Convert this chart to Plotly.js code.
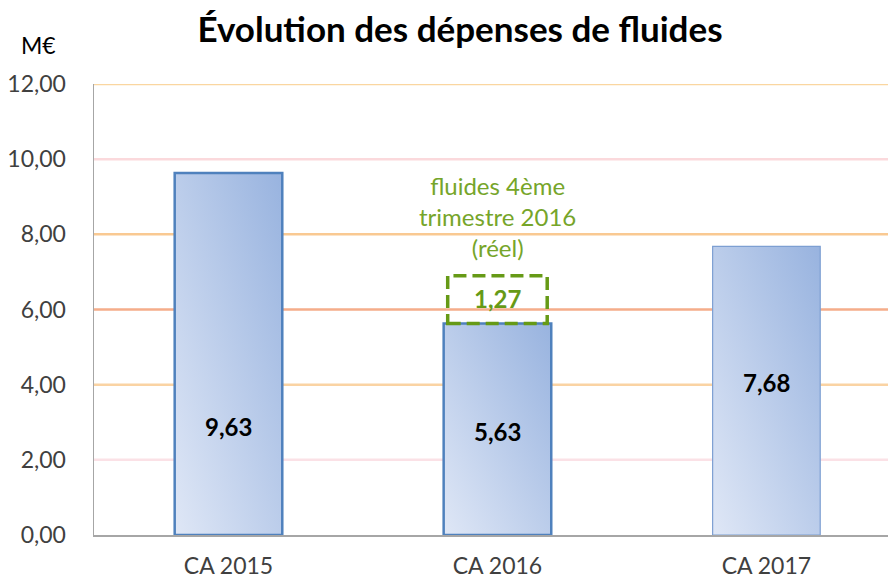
<!DOCTYPE html>
<html><head><meta charset="utf-8">
<script src="https://cdn.plot.ly/plotly-3.0.1.min.js"></script>
<style>body{margin:0;background:#fff}#chart{width:888px;height:581px}</style>
</head><body><div id="chart"></div>
<script>
const categories = ['CA 2015', 'CA 2016', 'CA 2017'];
const values = [9.63, 5.63, 7.68];
const q4Extra = 1.27; // fluides 4ème trimestre 2016 (réel), on top of CA 2016
const q4Category = 'CA 2016';
const tickValues = [0, 2, 4, 6, 8, 10, 12];
const gridColors = ['#a6a6a6', '#fbe1e6', '#fad3a3', '#f5ad8a', '#f9c992', '#fbd9dc', '#fad6a0'];
const labelFractions = [0.30, 0.49, 0.53];

const fmt = v => v.toFixed(2).replace('.', ',');
const font = 'Lato, "Open Sans", sans-serif';
const q4Index = categories.indexOf(q4Category);

const bars = {
  type: 'bar', x: categories, y: values, width: 0.4,
  marker: { color: '#b6c9ea', line: { color: ['#4f81bd', '#4f81bd', '#7d9fd2'], width: [2.5, 2.5, 1.2] } },
  hoverinfo: 'x+y', showlegend: false
};

const shapes = tickValues.slice(1).map((t, i) => ({
  type: 'line', xref: 'paper', x0: 0, x1: 1, yref: 'y', y0: t, y1: t,
  line: { color: gridColors[i + 1], width: 2.5 }, layer: 'below'
}));
shapes.push({
  type: 'rect', xref: 'x', yref: 'y',
  x0: q4Index - 0.185, x1: q4Index + 0.185,
  y0: values[q4Index], y1: values[q4Index] + q4Extra,
  line: { color: '#669a16', width: 3.5, dash: '13px,6px' }, fillcolor: 'rgba(0,0,0,0)'
});

const annotations = values.map((v, i) => ({
  x: categories[i], y: v * labelFractions[i], xref: 'x', yref: 'y',
  text: '<b>' + fmt(v) + '</b>', showarrow: false,
  font: { family: font, size: 24, color: '#000' }
}));
annotations.push({
  x: q4Category, y: values[q4Index] + q4Extra / 2, xref: 'x', yref: 'y',
  text: '<b>' + fmt(q4Extra) + '</b>', showarrow: false, yshift: 1,
  font: { family: font, size: 24, color: '#669a16' }
});
annotations.push({
  x: q4Category, y: values[q4Index] + q4Extra, xref: 'x', yref: 'y', yanchor: 'bottom', yshift: 12,
  text: 'fluides 4ème<br>trimestre 2016<br>(réel)', showarrow: false,
  font: { family: font, size: 24, color: '#76a52a' }, align: 'center'
});
annotations.push({
  xref: 'paper', yref: 'paper', x: -0.0705, y: 1.0, yanchor: 'bottom', xanchor: 'center', yshift: 23,
  text: 'M€', showarrow: false, font: { family: font, size: 23, color: '#000' }
});

const layout = {
  width: 888, height: 581,
  margin: { l: 94, r: 0, t: 84, b: 46 },
  paper_bgcolor: '#fff', plot_bgcolor: '#fff',
  separators: ',.',
  title: { text: '<b>Évolution des dépenses de fluides</b>', x: 0.518, xanchor: 'center', y: 0.948, yanchor: 'middle', yref: 'container',
    font: { family: font, size: 35, color: '#000' } },
  xaxis: { type: 'category', range: [-0.5, 2.452], showgrid: false, zeroline: false,
    showline: true, linecolor: '#a6a6a6', linewidth: 1.5, ticks: '',
    tickfont: { family: font, size: 23, color: '#404040' }, ticklabelstandoff: 10 },
  yaxis: { range: [0, 12], tickvals: tickValues, ticktext: tickValues.map(fmt), showgrid: false, zeroline: false,
    showline: true, linecolor: '#a6a6a6', linewidth: 1.5, ticks: '',
    tickfont: { family: font, size: 23, color: '#404040' }, ticklabelstandoff: 22 },
  shapes, annotations, bargap: 0.6
};

Plotly.newPlot('chart', [bars], layout, { staticPlot: true }).then(gd => {
  const svg = gd.querySelector('.main-svg');
  const ns = 'http://www.w3.org/2000/svg';
  let defs = svg.querySelector('defs');
  if (!defs) { defs = document.createElementNS(ns, 'defs'); svg.insertBefore(defs, svg.firstChild); }
  const g = document.createElementNS(ns, 'linearGradient');
  g.setAttribute('id', 'barGrad');
  g.setAttribute('x1', '0'); g.setAttribute('y1', '1'); g.setAttribute('x2', '1'); g.setAttribute('y2', '0');
  [['0', '#dfe7f6'], ['1', '#98b3df']].forEach(([o, c]) => {
    const s = document.createElementNS(ns, 'stop');
    s.setAttribute('offset', o); s.setAttribute('stop-color', c); g.appendChild(s);
  });
  defs.appendChild(g);
  gd.querySelectorAll('.bars .point path').forEach(p => { p.style.fill = 'url(#barGrad)'; });
});
</script></body></html>
